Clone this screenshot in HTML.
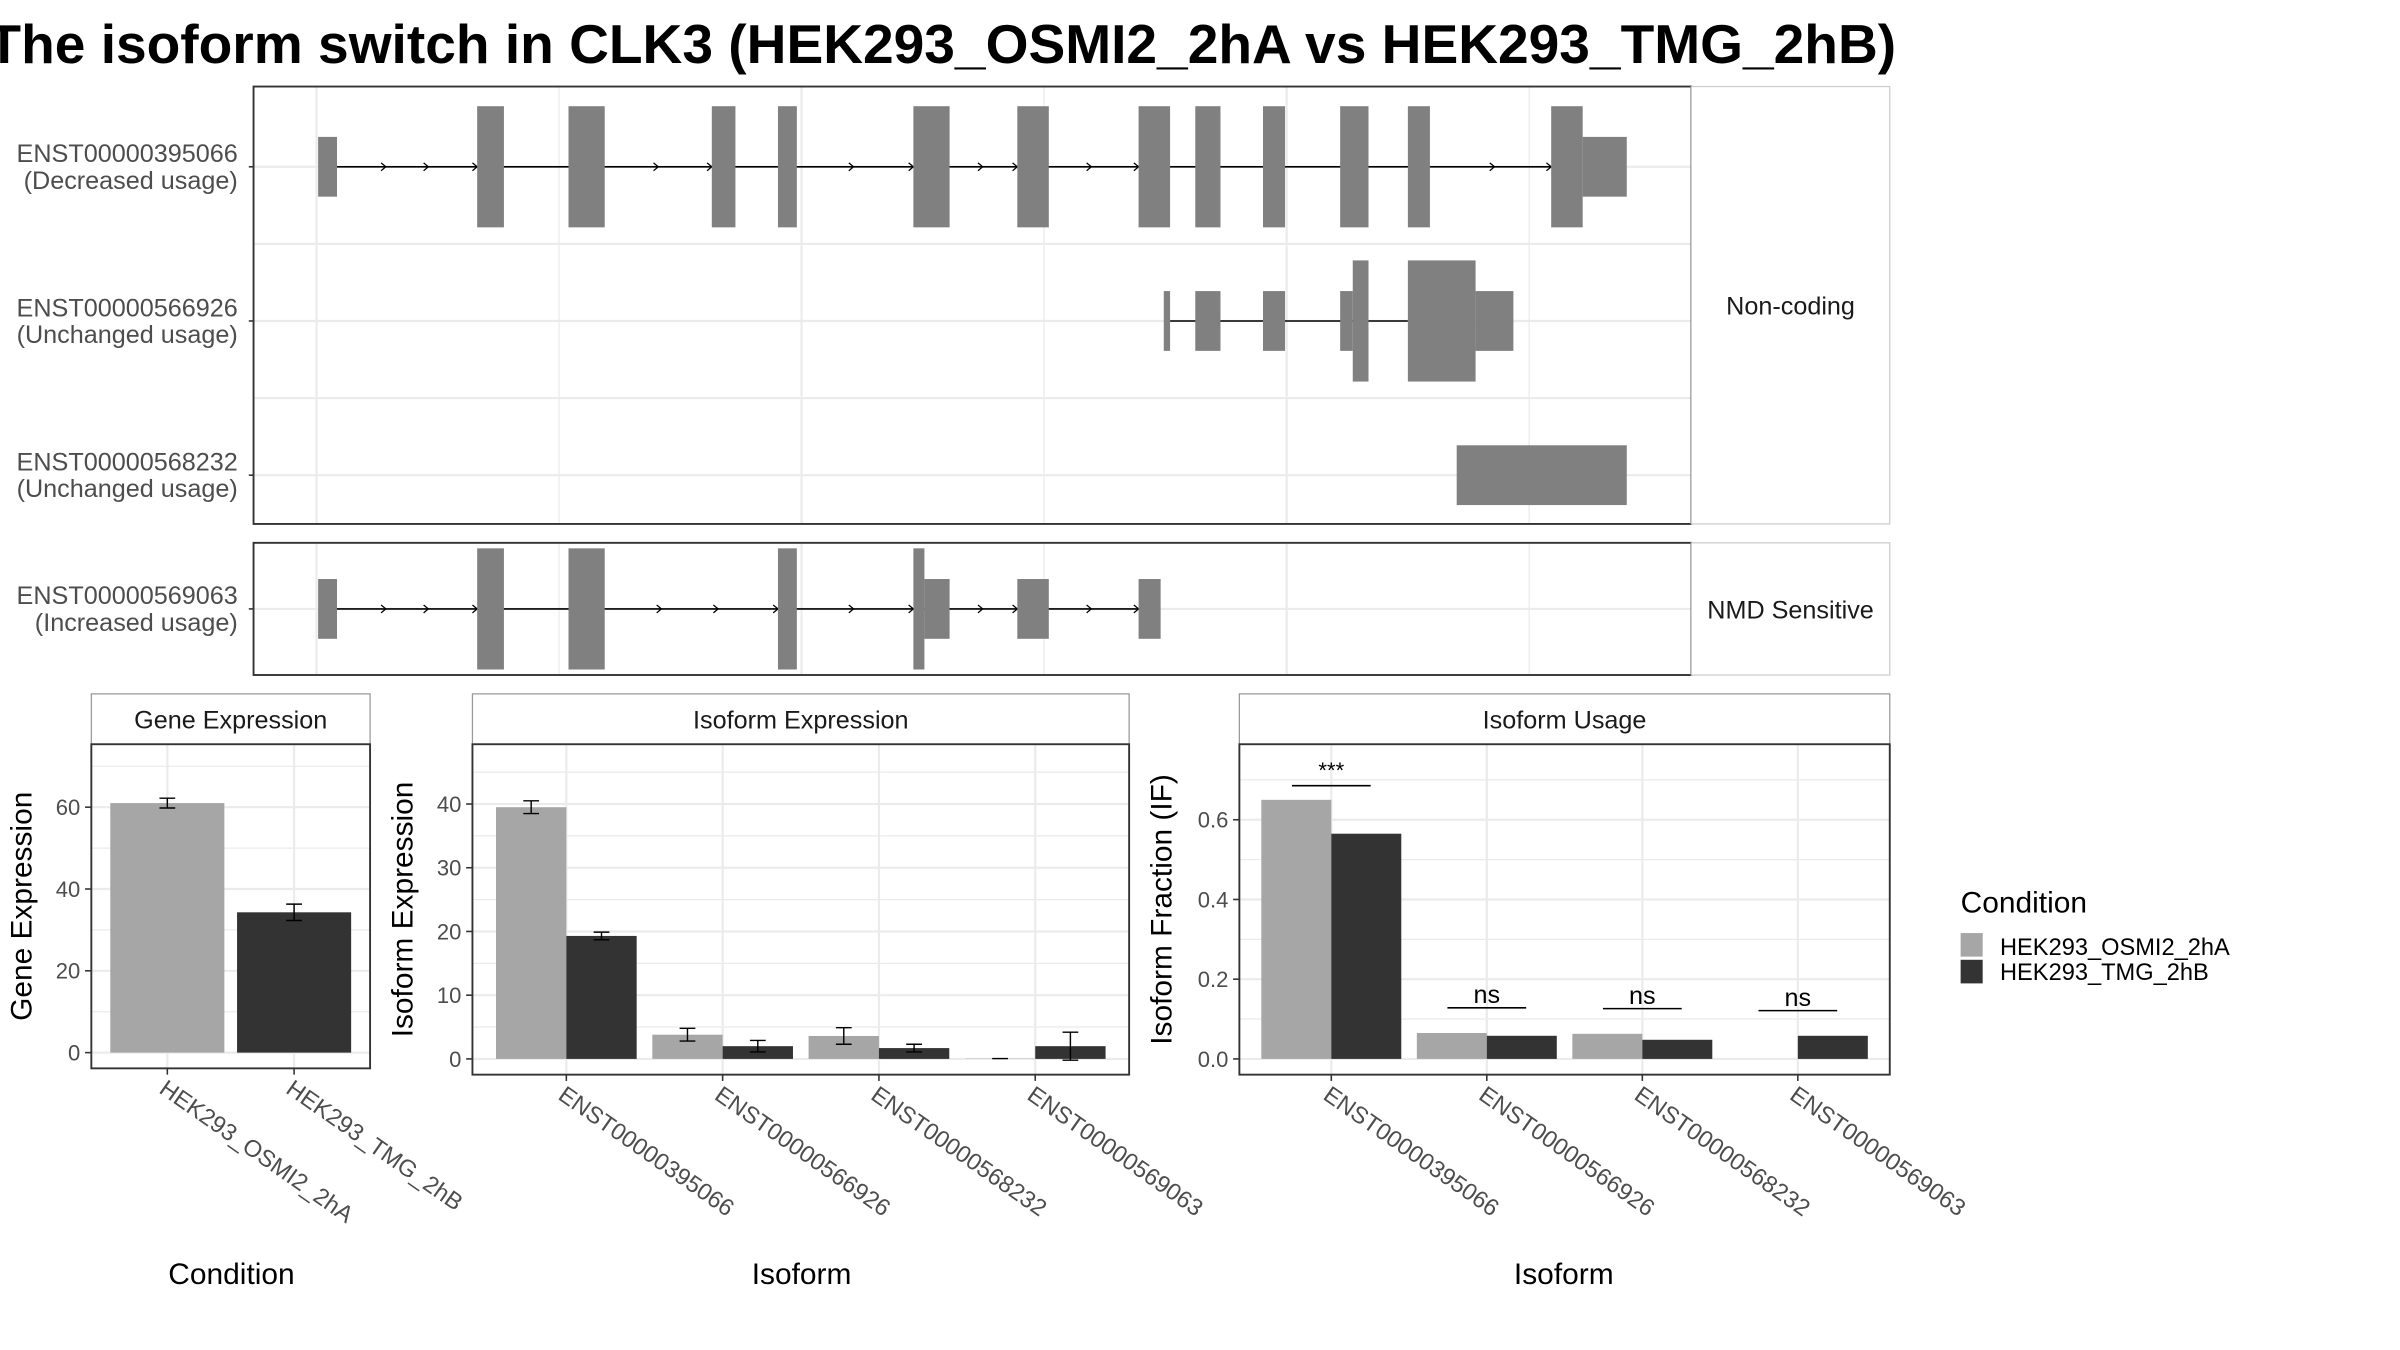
<!DOCTYPE html>
<html><head><meta charset="utf-8"><style>
html,body{margin:0;padding:0;background:#fff}
svg{display:block;font-family:"Liberation Sans",sans-serif}
</style></head><body>
<svg id="c" width="2400" height="1350" viewBox="0 0 1524 858" preserveAspectRatio="none" xmlns="http://www.w3.org/2000/svg">
<text x="-8" y="40" font-size="35" font-weight="bold" fill="#000">The isoform switch in CLK3 (HEK293_OSMI2_2hA vs HEK293_TMG_2hB)</text>
<g id="g"></g>
</svg>
<script>
// ---- data ----
const conditions = ["HEK293_OSMI2_2hA","HEK293_TMG_2hB"];
const geneExpr = [61, 34.3];
const geneErr = [1.2, 2.0];
const isoforms = ["ENST00000395066","ENST00000566926","ENST00000568232","ENST00000569063"];
const isoExprA = [39.5, 3.8, 3.6, 0.05];
const isoExprB = [19.3, 2.0, 1.7, 2.0];
const isoErrA = [1.0, 1.0, 1.3, 0];
const isoErrB = [0.6, 0.9, 0.6, 2.2];
const usageA = [0.65, 0.065, 0.063, 0];
const usageB = [0.565, 0.058, 0.048, 0.058];
const sigLabels = ["***","ns","ns","ns"];
const geneTicks = [0,20,40,60];
const isoTicks = [0,10,20,30,40];
const usageTicks = [0,0.2,0.4,0.6];
const usageTickLabels = ["0.0","0.2","0.4","0.6"];

const NS="http://www.w3.org/2000/svg", G=document.getElementById('g');
function el(t,a,txt,p){const e=document.createElementNS(NS,t);for(const k in a)e.setAttribute(k,a[k]);if(txt!=null)e.textContent=txt;(p||G).appendChild(e);return e;}
const LIGHT="#a6a6a6", DARK="#333333", GRID="#ebebeb";

// ---- transcript structure panels ----
el('rect',{x:161,y:55,width:913,height:278,fill:'#fff',stroke:'none',});
const vgrid=[201,355,509,663,817,971];
function gridPanel(y0,y1,hl){
  vgrid.forEach((x,i)=>el('line',{x1:x,x2:x,y1:y0,y2:y1,stroke:GRID,'stroke-width':i%2==0?1.4:0.8}));
  hl.forEach(y=>el('line',{x1:161,x2:1074,y1:y,y2:y,stroke:GRID,'stroke-width':1.4}));
}
gridPanel(55,333,[106,155,204,253,302]);
gridPanel(345,429,[387]);
function transcript(name,y,exons,lineFrom,lineTo,arrows){
  const g=el('g',{});
  if(lineTo>lineFrom) el('line',{x1:lineFrom,x2:lineTo,y1:y,y2:y,stroke:'#000','stroke-width':1},null,g);
  (arrows||[]).forEach(x=>el('path',{d:`M${x-3},${y-2.5} L${x},${y} L${x-3},${y+2.5}`,fill:'none',stroke:'#000','stroke-width':0.8},null,g));
  exons.forEach(e=>{const h=e[2]?38.5:19;el('rect',{x:e[0],y:y-h,width:e[1]-e[0],height:2*h,fill:'#808080'},null,g);});
}
transcript('transcript-395066',106,[[202,214,0],[303,320,1],[361,384,1],[452,467,1],[494,506,1],[580,603,1],[646,666,1],[723,743,1],[759,775,1],[802,816,1],[851,869,1],[894,908,1],[985,1005,1],[1005,1033,0]],214,985,[245,272,303,418,452,542,580,624,646,693,723,949,985]);
transcript('transcript-566926',204,[[739,743,0],[759,775,0],[802,816,0],[851,859,0],[859,869,1],[894,937,1],[937,961,0]],743,894,[]);
transcript('transcript-568232',302,[[925,1033,0]],0,0,[]);
transcript('transcript-569063',387,[[202,214,0],[303,320,1],[361,384,1],[494,506,1],[580,587,1],[587,603,0],[646,666,0],[723,737,0]],214,723,[245,272,303,420,456,494,542,580,624,646,693,723]);
el('rect',{x:161,y:55,width:913,height:278,fill:'none',stroke:'#333','stroke-width':1.2,});
el('rect',{x:161,y:345,width:913,height:84,fill:'none',stroke:'#333','stroke-width':1.2,});
el('rect',{x:1074,y:55,width:126,height:278,fill:'#fff',stroke:'#ccc','stroke-width':0.8,});
el('rect',{x:1074,y:345,width:126,height:84,fill:'#fff',stroke:'#ccc','stroke-width':0.8,});
el('text',{x:1137,y:200,'font-size':16,'text-anchor':'middle',fill:'#1a1a1a',},'Non-coding');
el('text',{x:1137,y:393,'font-size':16,'text-anchor':'middle',fill:'#1a1a1a',},'NMD Sensitive');
[[106,'ENST00000395066','(Decreased usage)'],[204,'ENST00000566926','(Unchanged usage)'],[302,'ENST00000568232','(Unchanged usage)'],[387,'ENST00000569063','(Increased usage)']].forEach(r=>{
  const t=el('text',{x:151,y:r[0]-3,'font-size':16,'text-anchor':'end',fill:'#4d4d4d',});
  el('tspan',{x:151,dy:0},r[1],t);el('tspan',{x:151,dy:17},r[2],t);
  el('line',{x1:158,x2:161,y1:r[0],y2:r[0],stroke:'#333'});
});

// ---- bar panels ----
function panel(o){
  const {name,x0,x1,y0,y1,title,ticks,tickLabels,ymax,yTitle,yTitleX,cats,xTitle,xTitleX}=o;
  const y=v=>y1-10-(v/ymax)*(y1-10-y0-o.topPad);
  el('rect',{x:x0,y:441,width:x1-x0,height:32,fill:'#fff',stroke:'#999','stroke-width':0.8,});
  el('text',{x:(x0+x1)/2,y:463,'font-size':16,'text-anchor':'middle',fill:'#1a1a1a',},title);
  const step=ticks[1]-ticks[0];
  for(let v=step/2;v<=ymax*1.4;v+=step){const yy=y(v);if(yy>y0)el('line',{x1:x0,x2:x1,y1:yy,y2:yy,stroke:GRID,'stroke-width':0.8});}
  ticks.forEach((v,i)=>{const yy=y(v);el('line',{x1:x0,x2:x1,y1:yy,y2:yy,stroke:GRID,'stroke-width':1.4});
    el('line',{x1:x0-4,x2:x0,y1:yy,y2:yy,stroke:'#333'});
    el('text',{x:x0-7,y:yy+5,'font-size':14,'text-anchor':'end',fill:'#4d4d4d',},tickLabels[i]);});
  const n=cats.length;
  const step2=(x1-x0-2*o.edge)/n;
  const cx=i=>x0+o.edge+step2*(i+0.5);
  cats.forEach((c,i)=>{el('line',{x1:cx(i),x2:cx(i),y1:y0,y2:y1,stroke:GRID,'stroke-width':1.4});});
  o.series.forEach((s,si)=>{
    s.vals.forEach((v,i)=>{
      const w=step2*0.9/o.series.length;
      const bx=o.series.length==1?cx(i)-step2*0.45:cx(i)-step2*0.45+si*w;
      const b=el('rect',{x:bx,y:y(v),width:w,height:y(0)-y(v),fill:(s.fills?s.fills[i]:s.fill)});
      
      
      if(s.err){const ex=bx+w/2,e=s.err[i];
        const eb=el('path',{d:`M${ex-5},${y(v+e)}H${ex+5}M${ex},${y(v+e)}V${y(v-e)}M${ex-5},${y(v-e)}H${ex+5}`,stroke:'#000','stroke-width':0.9,fill:'none'});
        
        }
    });
  });
  if(o.sig){o.sig.forEach((lab,i)=>{const top=Math.max(o.series[0].vals[i],o.series[1].vals[i]);
    const ly=y(top)-9-(i==0?0:7);
    el('line',{x1:cx(i)-25,x2:cx(i)+25,y1:ly,y2:ly,stroke:'#000','stroke-width':1});
    el('text',{x:cx(i),y:ly-(i==0?5:3),'font-size':i==0?14:16,'text-anchor':'middle',fill:'#000',},lab);});}
  el('rect',{x:x0,y:y0,width:x1-x0,height:y1-y0,fill:'none',stroke:'#333','stroke-width':1.2,});
  cats.forEach((c,i)=>{el('line',{x1:cx(i),x2:cx(i),y1:y1,y2:y1+4,stroke:'#333'});
    el('text',{x:cx(i)-6,y:y1+15,'font-size':15,fill:'#4d4d4d',transform:`rotate(35 ${cx(i)-6} ${y1+15})`,},c);});
  el('text',{x:yTitleX,y:(y0+y1)/2,'font-size':19,'text-anchor':'middle',fill:'#000',transform:`rotate(-90 ${yTitleX} ${(y0+y1)/2})`,},yTitle);
  el('text',{x:xTitleX,y:816,'font-size':19,'text-anchor':'middle',fill:'#000',},xTitle);
}
panel({name:'gene-expression',x0:58,x1:235,y0:473,y1:679,title:'Gene Expression',ticks:geneTicks,tickLabels:geneTicks.map(String),ymax:60,topPad:40,yTitle:'Gene Expression',yTitleX:20,cats:conditions,xTitle:'Condition',xTitleX:147,edge:8,
  series:[{vals:geneExpr,fills:[LIGHT,DARK],err:geneErr}]});
panel({name:'isoform-expression',x0:300,x1:717,y0:473,y1:683,title:'Isoform Expression',ticks:isoTicks,tickLabels:isoTicks.map(String),ymax:40,topPad:38,yTitle:'Isoform Expression',yTitleX:262,cats:isoforms,xTitle:'Isoform',xTitleX:509,edge:10,
  series:[{vals:isoExprA,fill:LIGHT,err:isoErrA},{vals:isoExprB,fill:DARK,err:isoErrB}]});
panel({name:'isoform-usage',x0:787,x1:1200,y0:473,y1:683,title:'Isoform Usage',ticks:usageTicks,tickLabels:usageTickLabels,ymax:0.6,topPad:48,yTitle:'Isoform Fraction (IF)',yTitleX:744,cats:isoforms,xTitle:'Isoform',xTitleX:993,edge:9,
  series:[{vals:usageA,fill:LIGHT},{vals:usageB,fill:DARK}],sig:sigLabels});

// ---- legend ----
el('text',{x:1245,y:580,'font-size':19,fill:'#000',},'Condition');
el('rect',{x:1245,y:593,width:14,height:15,fill:LIGHT,});
el('rect',{x:1245,y:610,width:14,height:15,fill:DARK,});
el('text',{x:1270,y:607,'font-size':15,fill:'#000',},conditions[0]);
el('text',{x:1270,y:623,'font-size':15,fill:'#000',},conditions[1]);
</script>
</body></html>
